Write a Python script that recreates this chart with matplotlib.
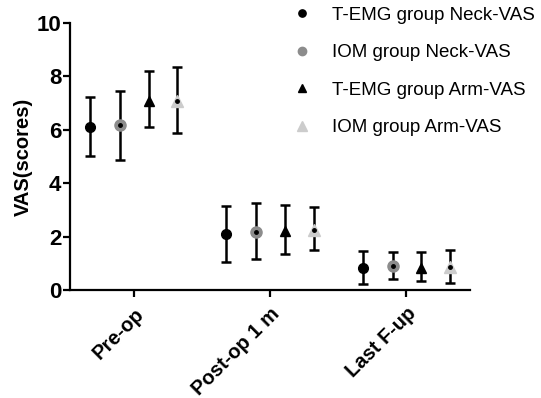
import numpy as np
import matplotlib
matplotlib.use('Agg')
import matplotlib.pyplot as plt
from matplotlib.lines import Line2D

plt.rcParams['font.family'] = ['Liberation Sans', 'DejaVu Sans']

# data
timepoints = ['Pre-op', 'Post-op 1 m', 'Last F-up']
groups = ['T-EMG group Neck-VAS', 'IOM group Neck-VAS',
          'T-EMG group Arm-VAS', 'IOM group Arm-VAS']
means = [
    [6.12, 2.09, 0.84],   # T-EMG neck
    [6.17, 2.18, 0.92],   # IOM neck
    [7.08, 2.21, 0.84],   # T-EMG arm
    [7.08, 2.27, 0.85],   # IOM arm
]
lower = [
    [5.04, 1.04, 0.22],
    [4.89, 1.15, 0.40],
    [6.12, 1.35, 0.33],
    [5.89, 1.52, 0.27],
]
upper = [
    [7.22, 3.16, 1.46],
    [7.46, 3.25, 1.41],
    [8.19, 3.18, 1.42],
    [8.36, 3.10, 1.50],
]

offsets = [-0.32, -0.10, 0.11, 0.32]
# marker style per group: (marker, face, edge, size, inner dot)
styles = [
    ('o', 'black', 'black', 7, False),
    ('o', '#8c8c8c', '#8c8c8c', 8, True),
    ('^', 'black', 'black', 7, False),
    ('^', '#cccccc', '#cccccc', 9, True),
]

fig = plt.figure(figsize=(5.41, 3.98), dpi=100)
ax = fig.add_axes([0.129, 0.271, 0.74, 0.671])

x = np.arange(len(timepoints))
handles = []
for i in range(len(groups)):
    m = np.array(means[i])
    lo = m - np.array(lower[i])
    hi = np.array(upper[i]) - m
    mk, fc, ec, ms, dot = styles[i]
    ax.errorbar(x + offsets[i], m, yerr=[lo, hi], fmt='none', ecolor='black',
                elinewidth=1.8, capsize=3.5, capthick=1.8, zorder=2)
    ax.plot(x + offsets[i], m, linestyle='none', marker=mk, markerfacecolor=fc,
            markeredgecolor=ec, markersize=ms, zorder=3)
    if dot:
        ax.plot(x + offsets[i], m, linestyle='none', marker='o', color='black',
                markersize=2.5, zorder=4)
    handles.append(Line2D([], [], linestyle='none', marker=mk, markerfacecolor=fc,
                          markeredgecolor=ec, markersize=ms * 0.75))

ax.set_xlim(-0.47, 2.47)
ax.set_ylim(0, 10)
ax.set_yticks([0, 2, 4, 6, 8, 10])
ax.set_xticks(x)
ax.set_xticklabels(timepoints, rotation=45, ha='right', rotation_mode='anchor',
                   fontsize=14.5, fontweight='bold')
for lab in ax.get_yticklabels():
    lab.set_fontsize(16)
    lab.set_fontweight('bold')
ax.set_ylabel('VAS(scores)', fontsize=14.5, fontweight='bold', labelpad=3)

for side in ['top', 'right']:
    ax.spines[side].set_visible(False)
for side in ['left', 'bottom']:
    ax.spines[side].set_linewidth(1.6)
ax.tick_params(width=1.6, length=5)
ax.tick_params(axis='y', pad=1)
ax.tick_params(axis='x', pad=5)

fig.legend(handles, groups, loc='upper left', bbox_to_anchor=(0.51, 1.025),
           frameon=False, fontsize=13.5, handletextpad=1.1, labelspacing=1.08,
           handlelength=1.0)

fig.savefig('out.png', dpi=100)
